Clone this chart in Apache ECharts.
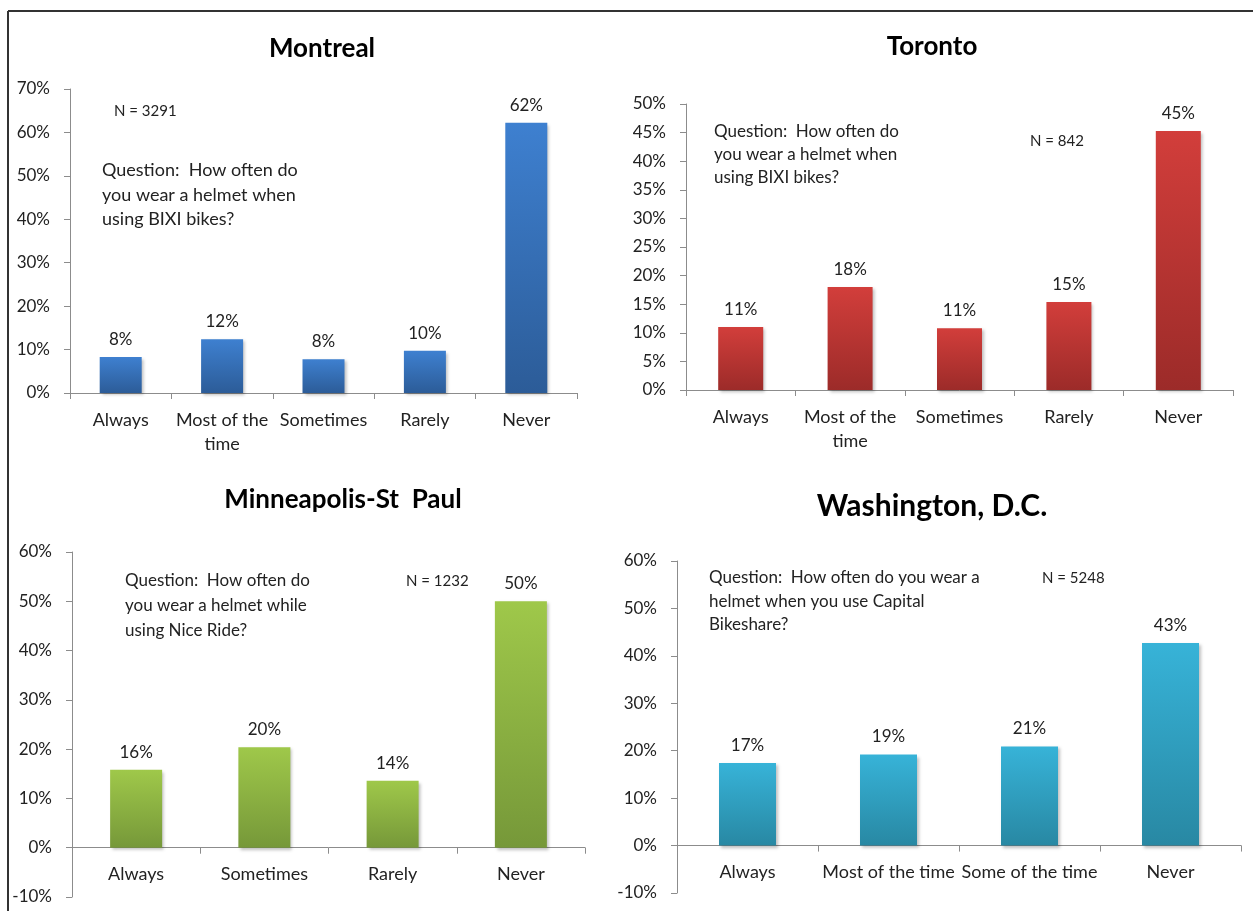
<!DOCTYPE html>
<html><head><meta charset="utf-8">
<script src="https://cdn.jsdelivr.net/npm/echarts@6/dist/echarts.min.js"></script>
<style>html,body{margin:0;padding:0;background:#fff}#c{width:1253px;height:911px}</style>
</head><body><div id="c"></div>
<script>
// ---- data ----
const montrealCats = ['Always', 'Most of the\ntime', 'Sometimes', 'Rarely', 'Never'];
const montrealVals = [8.3, 12.4, 7.8, 9.7, 62.2];
const torontoCats = ['Always', 'Most of the\ntime', 'Sometimes', 'Rarely', 'Never'];
const torontoVals = [11.0, 18.0, 10.8, 15.4, 45.3];
const minneapolisCats = ['Always', 'Sometimes', 'Rarely', 'Never'];
const minneapolisVals = [15.8, 20.4, 13.6, 50.0];
const washingtonCats = ['Always', 'Most of the time', 'Some of the time', 'Never'];
const washingtonVals = [17.4, 19.2, 20.9, 42.7];

const FONT = 'Lato, "Open Sans", sans-serif';
const chart = echarts.init(document.getElementById('c'));

function grad(top, bottom) {
  return new echarts.graphic.LinearGradient(0, 0, 0, 1, [{offset: 0, color: top}, {offset: 1, color: bottom}]);
}
const axisLine = {show: true, onZero: true, lineStyle: {color: '#8c8c8c', width: 1}};
function xAx(i, cats, margin) {
  return {type: 'category', gridIndex: i, data: cats,
    axisLine: axisLine, axisTick: {show: true, length: 6, lineStyle: {color: '#8c8c8c'}},
    axisLabel: {fontFamily: FONT, fontSize: 18, color: '#222', margin: margin, lineHeight: 24, interval: 0}};
}
function yAx(i, min, max, step) {
  return {type: 'value', gridIndex: i, min: min, max: max, interval: step,
    axisLine: {show: true, lineStyle: {color: '#8c8c8c', width: 1}},
    axisTick: {show: true, length: 6, lineStyle: {color: '#8c8c8c'}},
    splitLine: {show: false},
    axisLabel: {fontFamily: FONT, fontSize: 17, color: '#222', margin: 20, formatter: v => v + '%'}};
}
function ser(i, vals, bw, top, bottom) {
  return {type: 'bar', xAxisIndex: i, yAxisIndex: i, data: vals, barWidth: bw,
    itemStyle: {color: grad(top, bottom), shadowBlur: 3, shadowColor: 'rgba(0,0,0,0.25)', shadowOffsetX: 2, shadowOffsetY: 2},
    label: {show: true, position: 'top', distance: 9, fontFamily: FONT, fontSize: 17, color: '#222',
      formatter: p => Math.round(p.value) + '%'}};
}
function txt(x, y, lines, size, lh) {
  return {type: 'text', left: x, top: y, style: {text: lines, font: size + 'px ' + FONT, fill: '#222', lineHeight: lh}};
}
const titleStyle = s => ({fontFamily: FONT, fontSize: s, fontWeight: 'bold', color: '#000'});
const grids = [
  {left: 70, top: 89, width: 507, height: 304},
  {left: 686, top: 104, width: 547, height: 286},
  {left: 72, top: 552, width: 513, height: 345},
  {left: 677, top: 561, width: 564, height: 332}
].map(g => Object.assign(g, {outerBoundsMode: 'none', containLabel: false}));

chart.setOption({
  animation: false,
  title: [
    {text: 'Montreal', left: 317, top: 31, textAlign: 'center', textStyle: titleStyle(26)},
    {text: 'Toronto', left: 927, top: 29, textAlign: 'center', textStyle: titleStyle(26)},
    {text: 'Minneapolis-St  Paul', left: 338, top: 482, textAlign: 'center', textStyle: titleStyle(26)},
    {text: 'Washington, D.C.', left: 927, top: 486, textAlign: 'center', textStyle: titleStyle(30)}
  ],
  grid: grids,
  xAxis: [xAx(0, montrealCats, 15), xAx(1, torontoCats, 15), xAx(2, minneapolisCats, -35), xAx(3, washingtonCats, -33)],
  yAxis: [yAx(0, 0, 70, 10), yAx(1, 0, 50, 5), yAx(2, -10, 60, 10), yAx(3, -10, 60, 10)],
  series: [
    ser(0, montrealVals, 42, '#3e80d0', '#2c5c98'),
    ser(1, torontoVals, 45, '#d23e3b', '#9c2b29'),
    ser(2, minneapolisVals, 52, '#9fc84a', '#769839'),
    ser(3, washingtonVals, 57, '#37b3d8', '#2888a3')
  ],
  graphic: [
    {type: 'line', shape: {x1: 8, y1: 11, x2: 1253, y2: 11}, style: {stroke: '#333', lineWidth: 2}},
    {type: 'line', shape: {x1: 8, y1: 11, x2: 8, y2: 911}, style: {stroke: '#333', lineWidth: 2}},
    txt(114, 99, 'N = 3291', 15, 24),
    txt(102, 158, 'Question:  How often do\nyou wear a helmet when\nusing BIXI bikes?', 18, 24.5),
    txt(714, 120, 'Question:  How often do\nyou wear a helmet when\nusing BIXI bikes?', 17, 23),
    txt(1030, 129, 'N = 842', 15, 24),
    txt(125, 568, 'Question:  How often do\nyou wear a helmet while\nusing Nice Ride?', 17, 25),
    txt(406, 569, 'N = 1232', 15, 24),
    txt(709, 566, 'Question:  How often do you wear a\nhelmet when you use Capital\nBikeshare?', 17, 23.5),
    txt(1042, 566, 'N = 5248', 15, 24)
  ]
});
</script></body></html>
